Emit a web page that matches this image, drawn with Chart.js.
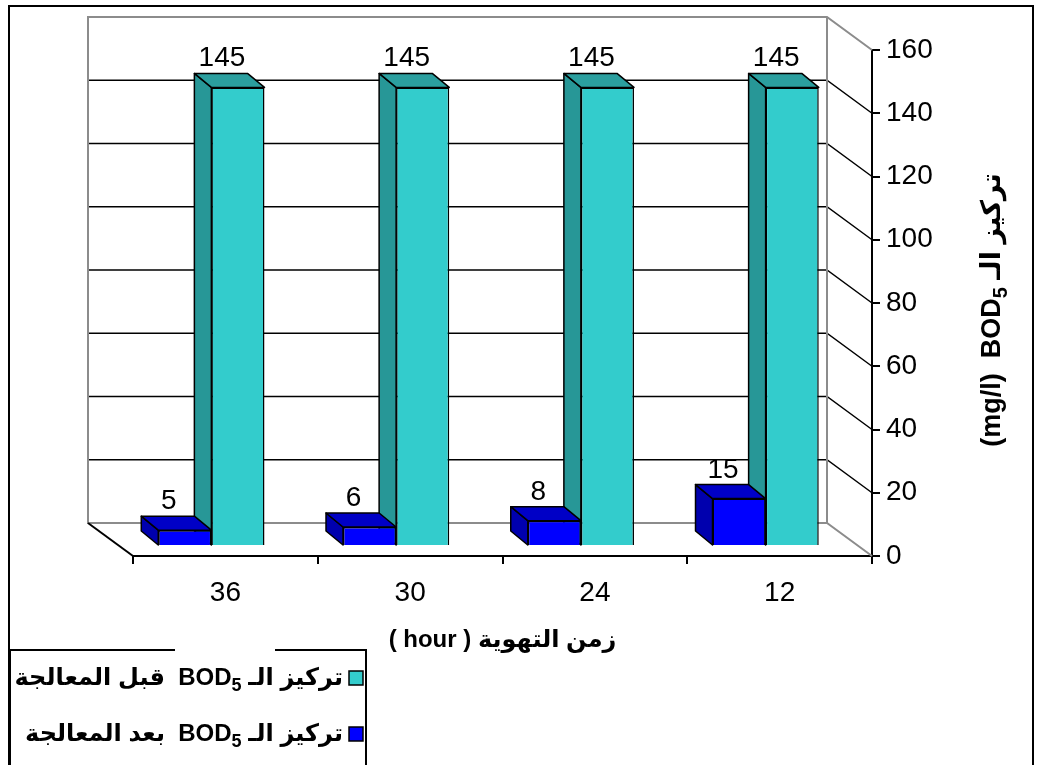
<!DOCTYPE html>
<html>
<head>
<meta charset="utf-8">
<script src="https://cdn.jsdelivr.net/npm/chart.js@4.4.1/dist/chart.umd.min.js"></script>
<style>
  html, body { margin: 0; padding: 0; background: #fff; }
  canvas { display: block; }
</style>
</head>
<body>
<canvas id="bodChart" width="1041" height="765"></canvas>
<script>
// aeration time (hours), shown from longest to shortest
const aerationHours = ['36', '30', '24', '12'];
// BOD5 (mg/l) after and before treatment
const bodAfter = [5, 6, 8, 15];
const bodBefore = [145, 145, 145, 145];
const seriesLabels = ['تركيز الـ BOD₅  بعد المعالجة', 'تركيز الـ BOD₅  قبل المعالجة'];
const yMin = 0;
const yMax = 160;
const yStep = 20;
const xTitle = '( hour ) زمن التهوية';
const yTitle = '(mg/l)  BOD₅ تركيز الـ';

const FONT = '"Liberation Sans", Arial, "DejaVu Sans", sans-serif';
const WALL = { dx: 45, dy: 33 };     // depth of the back wall
const SHIFT = { dx: -14, dy: -10 };  // front faces of the bars
const BAR_DEPTH = { dx: -17, dy: -14 };

const faceColors = [
  { front: '#0000FF', side: '#0000AE', top: '#0000C6' },
  { front: '#33CCCC', side: '#279797', top: '#2B9F9F' }
];

// text with a subscripted BOD₅; pieces are laid out left-to-right or right-to-left
function drawSubText(ctx, text, x, y, size, align, rtl) {
  const main = 'bold ' + size + 'px ' + FONT;
  const sub = 'bold ' + Math.round(size * 0.75) + 'px ' + FONT;
  const pieces = [];
  text.split('BOD₅').forEach((p, i) => {
    if (i > 0) {
      pieces.push({ t: 'BOD', f: main, dy: 0, bod: true });
      pieces.push({ t: '5', f: sub, dy: size * 0.32, bod: true });
    }
    if (p) pieces.push({ t: p, f: main, dy: 0 });
  });
  let total = 0;
  pieces.forEach(p => { ctx.font = p.f; p.w = ctx.measureText(p.t).width; total += p.w; });

  // visual order: in rtl mode the logical runs go right to left, BOD5 stays ltr inside
  let order = pieces;
  if (rtl) {
    order = [];
    for (let i = pieces.length - 1; i >= 0; i--) {
      if (pieces[i].bod && i > 0 && pieces[i - 1].bod) {
        order.push(pieces[i - 1], pieces[i]);
        i--;
      } else {
        order.push(pieces[i]);
      }
    }
  }
  let cx = align === 'right' ? x - total : align === 'center' ? x - total / 2 : x;
  ctx.textAlign = 'left';
  ctx.textBaseline = 'middle';
  order.forEach(p => {
    ctx.font = p.f;
    ctx.direction = /[\u0600-\u06FF]/.test(p.t) && rtl ? 'rtl' : 'ltr';
    ctx.textAlign = ctx.direction === 'rtl' ? 'right' : 'left';
    ctx.fillText(p.t, ctx.direction === 'rtl' ? cx + p.w : cx, y + p.dy);
    cx += p.w;
  });
  ctx.direction = 'ltr';
}

function poly(ctx, pts, fill) {
  ctx.beginPath();
  ctx.moveTo(pts[0][0], pts[0][1]);
  pts.slice(1).forEach(p => ctx.lineTo(p[0], p[1]));
  ctx.closePath();
  ctx.fillStyle = fill;
  ctx.fill();
  ctx.stroke();
}

const box3d = {
  id: 'box3d',
  beforeDatasetsDraw(chart) {
    const { ctx, chartArea: a, scales: { y } } = chart;
    const bl = a.left - WALL.dx, br = a.right - WALL.dx;

    // back wall and floor
    ctx.save();
    ctx.lineWidth = 1.5;
    for (let v = yMin + yStep; v < yMax; v += yStep) {
      const yf = y.getPixelForValue(v);
      ctx.strokeStyle = '#000';
      ctx.beginPath();
      ctx.moveTo(bl, yf - WALL.dy);
      ctx.lineTo(br, yf - WALL.dy);
      ctx.lineTo(a.right, yf);
      ctx.stroke();
    }
    const yTop = y.getPixelForValue(yMax), yBot = y.getPixelForValue(yMin);
    ctx.strokeStyle = '#8c8c8c';
    ctx.lineWidth = 2;
    ctx.beginPath();
    ctx.moveTo(a.right, yBot);
    ctx.lineTo(br, yBot - WALL.dy);
    ctx.lineTo(bl, yBot - WALL.dy);
    ctx.lineTo(bl, yTop - WALL.dy);
    ctx.lineTo(br, yTop - WALL.dy);
    ctx.lineTo(a.right, yTop);
    ctx.moveTo(br, yTop - WALL.dy);
    ctx.lineTo(br, yBot - WALL.dy);
    ctx.stroke();
    ctx.strokeStyle = '#000';
    ctx.beginPath();
    ctx.moveTo(bl, yBot - WALL.dy);
    ctx.lineTo(a.left, yBot);
    ctx.stroke();
    ctx.restore();

    // side and top faces, back series first
    ctx.save();
    ctx.translate(SHIFT.dx, SHIFT.dy);
    ctx.strokeStyle = '#000';
    ctx.lineWidth = 1.5;
    ctx.lineJoin = 'round';
    for (let d = chart.data.datasets.length - 1; d >= 0; d--) {
      const col = faceColors[d];
      chart.getDatasetMeta(d).data.forEach(bar => {
        const { x, y: top, base, width } = bar.getProps(['x', 'y', 'base', 'width'], true);
        const l = x - width / 2, r = x + width / 2;
        const bx = BAR_DEPTH.dx, by = BAR_DEPTH.dy;
        poly(ctx, [[l, base], [l, top], [l + bx, top + by], [l + bx, base + by]], col.side);
        poly(ctx, [[l, top], [r, top], [r + bx, top + by], [l + bx, top + by]], col.top);
      });
    }
    ctx.restore();

    // front faces are drawn by the bar controller in the shifted plane
    ctx.save();
    ctx.translate(SHIFT.dx, SHIFT.dy);
  },
  afterDatasetsDraw(chart) {
    const { ctx } = chart;
    // value labels above each box
    ctx.fillStyle = '#000';
    ctx.font = '28px ' + FONT;
    ctx.textAlign = 'center';
    ctx.textBaseline = 'alphabetic';
    chart.data.datasets.forEach((ds, d) => {
      chart.getDatasetMeta(d).data.forEach((bar, i) => {
        const { x, y } = bar.getProps(['x', 'y'], true);
        ctx.fillText(String(ds.data[i]), x + BAR_DEPTH.dx + 1, y + BAR_DEPTH.dy - 7);
      });
    });
    ctx.restore();
  },
  afterDraw(chart) {
    const { ctx, chartArea: a } = chart;
    ctx.save();
    // outer frame
    ctx.strokeStyle = '#000';
    ctx.lineWidth = 2;
    ctx.strokeRect(9, 6, 1024, 770);

    // axis titles
    ctx.fillStyle = '#000';
    drawSubText(ctx, xTitle, (a.left + a.right) / 2, 640, 24, 'center', false);
    ctx.save();
    ctx.translate(993, (a.top + a.bottom) / 2 + 7);
    ctx.rotate(-Math.PI / 2);
    drawSubText(ctx, yTitle, 0, 0, 27, 'center', false);
    ctx.restore();

    // legend box
    const L = { x: 10, y: 650, w: 356, rowH: 56 };
    ctx.fillStyle = '#fff';
    ctx.fillRect(L.x, L.y, L.w, 130);
    ctx.strokeStyle = '#000';
    ctx.lineWidth = 2;
    ctx.beginPath();
    ctx.moveTo(L.x, 780);
    ctx.lineTo(L.x, L.y);
    ctx.lineTo(175, L.y);
    ctx.moveTo(275, L.y);
    ctx.lineTo(L.x + L.w, L.y);
    ctx.lineTo(L.x + L.w, 780);
    ctx.stroke();

    const n = chart.data.datasets.length;
    for (let k = 0; k < n; k++) {
      const d = n - 1 - k;
      const ds = chart.data.datasets[d];
      const cy = 678 + k * L.rowH;
      ctx.fillStyle = ds.backgroundColor;
      ctx.lineWidth = 1.5;
      ctx.fillRect(349, cy - 7, 14, 14);
      ctx.strokeRect(349, cy - 7, 14, 14);
      ctx.fillStyle = '#000';
      drawSubText(ctx, ds.label, 343, cy, 24, 'right', true);
    }
    ctx.restore();
  }
};

new Chart(document.getElementById('bodChart').getContext('2d'), {
  type: 'bar',
  data: {
    labels: aerationHours,
    datasets: [
      {
        label: seriesLabels[0],
        data: bodAfter,
        backgroundColor: faceColors[0].front,
        borderColor: '#000',
        borderWidth: 1.5,
        clip: false
      },
      {
        label: seriesLabels[1],
        data: bodBefore,
        backgroundColor: faceColors[1].front,
        borderColor: '#000',
        borderWidth: 1.5,
        clip: false
      }
    ]
  },
  options: {
    responsive: false,
    devicePixelRatio: 1,
    animation: false,
    events: [],
    layout: { padding: { left: 133, top: 50, right: 0, bottom: 0 } },
    datasets: { bar: { categoryPercentage: 0.575, barPercentage: 1 } },
    plugins: { legend: { display: false }, tooltip: { enabled: false } },
    scales: {
      x: {
        grid: { drawOnChartArea: false, offset: true, tickLength: 8, color: '#000', lineWidth: 2 },
        border: { color: '#000', width: 2 },
        ticks: { color: '#000', font: { family: FONT, size: 28 }, padding: 12 },
        afterFit(scale) { scale.height = 209; }
      },
      y: {
        position: 'right',
        min: yMin,
        max: yMax,
        ticks: { stepSize: yStep, color: '#000', font: { family: FONT, size: 28 }, padding: 6 },
        grid: { drawOnChartArea: false, tickLength: 8, color: '#000', lineWidth: 2 },
        border: { color: '#000', width: 2 },
        afterFit(scale) { scale.width = 169; }
      }
    }
  },
  plugins: [box3d]
});
</script>
</body>
</html>
